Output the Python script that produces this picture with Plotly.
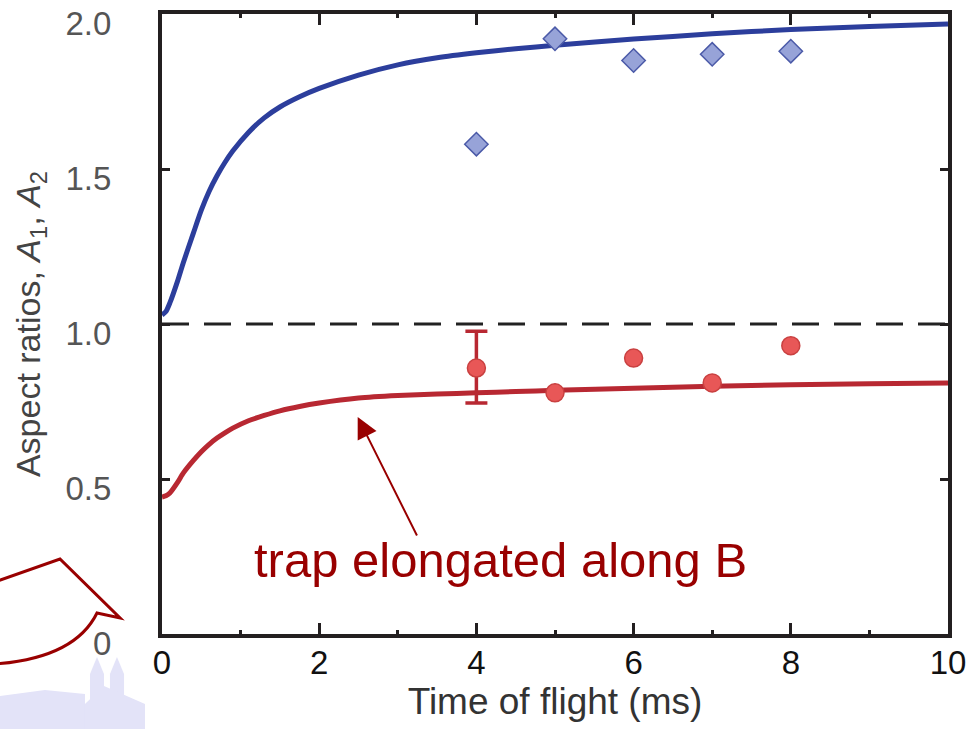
import plotly.graph_objects as go

# ---------------- data ----------------
t_fit = [0, 0.05, 0.1, 0.2, 0.27, 0.4, 0.5, 0.6, 0.7, 0.8, 0.9, 1.1, 1.3, 1.5, 1.75,
         2, 2.5, 3, 3.5, 4, 4.5, 5, 6, 7, 8, 9, 10]
A_theory_upper = [1.029, 1.040, 1.068, 1.140, 1.197, 1.294, 1.367, 1.428, 1.478, 1.521,
                  1.558, 1.618, 1.665, 1.700, 1.733, 1.760, 1.803, 1.836, 1.859, 1.875,
                  1.888, 1.899, 1.919, 1.936, 1.950, 1.960, 1.968]
A_theory_lower = [0.442, 0.446, 0.455, 0.490, 0.519, 0.560, 0.588, 0.612, 0.632, 0.649,
                  0.664, 0.688, 0.705, 0.720, 0.734, 0.745, 0.761, 0.769, 0.774, 0.778,
                  0.782, 0.786, 0.793, 0.799, 0.804, 0.807, 0.810]

t_meas = [4, 5, 6, 7, 8]
A_meas_upper = [1.58, 1.92, 1.85, 1.87, 1.88]
A_meas_lower = [0.858, 0.778, 0.89, 0.81, 0.93]

# error bar (only the t = 4 ms point carries one)
t_err = [4]
A_err = [0.858]
err_plus = [0.119]
err_minus = [0.113]

ref_t = [0, 10]
ref_A = [1.0, 1.0]

x_ticks = [0, 2, 4, 6, 8, 10]
x_labels = ["0", "2", "4", "6", "8", "10"]
y_ticks = [0, 0.5, 1.0, 1.5, 2.0]
y_labels = ["0", "0.5", "1.0", "1.5", "2.0"]

annotation_text = "trap elongated along B"
x_title = "Time of flight (ms)"
y_title = "Aspect ratios, <i>A</i><sub>1</sub>, <i>A</i><sub>2</sub>"

# ---------------- layout helpers ----------------
W, H = 975, 729
L, R, T, B = 162, 27, 14, 95
PW, PH = W - L - R, H - T - B


def px(x, y):
    return (x - L) / PW, (H - B - y) / PH


def path(cmds):
    out = []
    for c in cmds:
        if isinstance(c, str):
            out.append(c)
        else:
            xp, yp = px(*c)
            out.append(f"{xp:.4f},{yp:.4f}")
    return " ".join(out)


FONT = "Liberation Sans, Arial, Helvetica, sans-serif"
DARKRED = "#990000"

fig = go.Figure()

fig.add_trace(go.Scatter(x=ref_t, y=ref_A, mode="lines",
                         line=dict(color="#222222", width=3, dash="27px,15px"),
                         hoverinfo="skip", showlegend=False))
fig.add_trace(go.Scatter(x=t_fit, y=A_theory_upper, mode="lines",
                         line=dict(color="#2c3e9c", width=5, shape="spline", smoothing=0.6),
                         showlegend=False))
fig.add_trace(go.Scatter(x=t_fit, y=A_theory_lower, mode="lines",
                         line=dict(color="#b82832", width=5, shape="spline", smoothing=0.6),
                         showlegend=False))
fig.add_trace(go.Scatter(x=t_meas, y=A_meas_upper, mode="markers",
                         marker=dict(symbol="diamond", size=18, color="#97a3d8",
                                     line=dict(color="#4b5aa8", width=1.5)),
                         showlegend=False))
fig.add_trace(go.Scatter(x=t_err, y=A_err, mode="markers",
                         error_y=dict(type="data", symmetric=False, array=err_plus,
                                      arrayminus=err_minus, color="#b82832",
                                      thickness=3.5, width=11),
                         marker=dict(size=1, color="rgba(0,0,0,0)"),
                         hoverinfo="skip", showlegend=False))
fig.add_trace(go.Scatter(x=t_meas, y=A_meas_lower, mode="markers",
                         marker=dict(symbol="circle", size=18, color="#e85757",
                                     line=dict(color="#c94040", width=1.5)),
                         showlegend=False))

shapes = []
# faint watermark silhouette (bottom-left)
wm = "#e3e3f8"
for poly in [
    [(0, 696), (45, 690), (85, 694), (85, 729), (0, 729)],
    [(90, 729), (90, 674), (97, 657), (104, 674), (104, 729)],
    [(110, 729), (110, 674), (117, 657), (124, 674), (124, 729)],
    [(85, 704), (104, 686), (145, 704), (145, 729), (85, 729)],
]:
    cmds = ["M", poly[0]]
    for p in poly[1:]:
        cmds += ["L", p]
    cmds.append("Z")
    shapes.append(dict(type="path", xref="paper", yref="paper", path=path(cmds),
                       fillcolor=wm, line=dict(width=0), layer="below"))

# speech-bubble outline (bottom-left)
shapes.append(dict(type="path", xref="paper", yref="paper",
                   path=path(["M", (-5, 582), "L", (60, 559), "L", (120, 618), "L", (97, 613),
                              "Q", (75, 658), (-5, 664)]),
                   line=dict(color=DARKRED, width=3)))

annotations = [
    dict(x=2.49, y=0.70, xref="x", yref="y", ax=60, ay=120, axref="pixel", ayref="pixel",
         text="", showarrow=True, arrowhead=2, arrowsize=2.1, arrowwidth=2,
         arrowcolor=DARKRED, standoff=0),
    dict(x=px(500, 0)[0], y=px(0, 560)[1], xref="paper", yref="paper",
         text=annotation_text, showarrow=False, xanchor="center", yanchor="middle",
         font=dict(family=FONT, size=49, color=DARKRED)),
]

fig.update_layout(
    width=W, height=H,
    margin=dict(l=L, r=R, t=T, b=B, autoexpand=False),
    paper_bgcolor="white", plot_bgcolor="white",
    shapes=shapes, annotations=annotations,
    font=dict(family=FONT),
)

fig.update_xaxes(
    range=[0, 10], tickvals=x_ticks, ticktext=x_labels,
    showgrid=False, zeroline=False,
    showline=True, linecolor="#231f20", linewidth=4, mirror="ticks",
    ticks="inside", ticklen=11, tickwidth=3, tickcolor="#231f20",
    minor=dict(dtick=1, ticks="inside", ticklen=4, tickwidth=3, tickcolor="#231f20"),
    tickfont=dict(family=FONT, size=33, color="#111111"),
    ticklabelstandoff=-4,
    title=dict(text=x_title, font=dict(family=FONT, size=37, color="#333333"), standoff=2),
)
fig.update_yaxes(
    range=[0, 2], tickvals=y_ticks, ticktext=y_labels,
    showgrid=False, zeroline=False,
    showline=True, linecolor="#231f20", linewidth=4, mirror="ticks",
    ticks="inside", ticklen=8, tickwidth=3, tickcolor="#231f20",
    tickfont=dict(family=FONT, size=33, color="#555555"),
    ticklabelstandoff=40, ticklabelshift=9,
    title=dict(text=y_title, font=dict(family=FONT, size=34, color="#444444"), standoff=16),
)

fig.write_html("out.html")
